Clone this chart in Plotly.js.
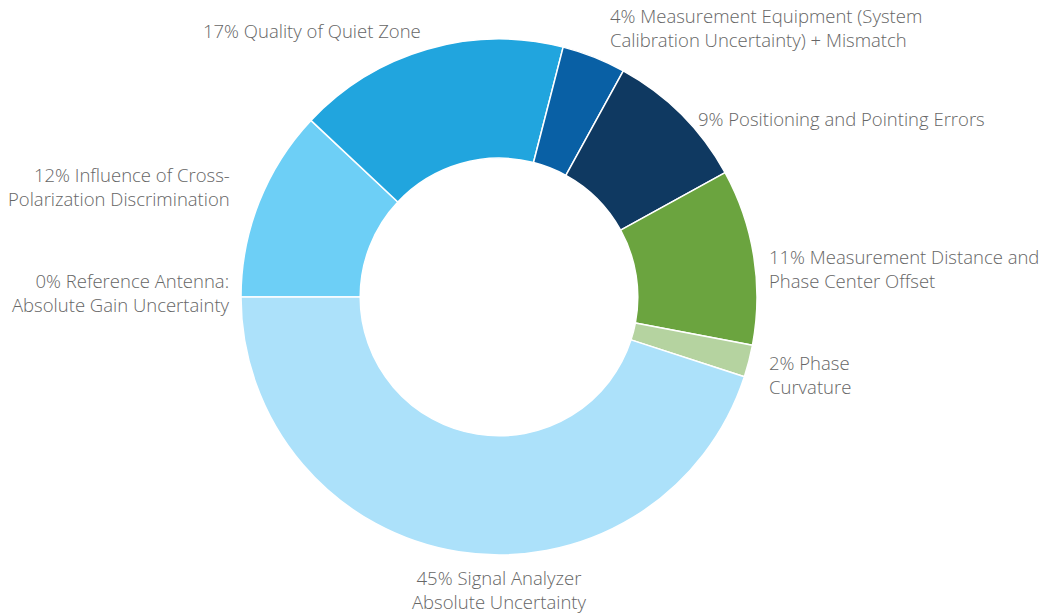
<!DOCTYPE html>
<html>
<head>
<meta charset="utf-8">
<script src="https://cdn.plot.ly/plotly-3.0.1.min.js"></script>
<style>
  html, body { margin: 0; padding: 0; background: #fff; }
  #chart { width: 1050px; height: 613px; }
</style>
</head>
<body>
<div id="chart"></div>
<script>
// Contributions to the total measurement uncertainty, clockwise from 9 o'clock
const categories = [
  'Reference Antenna:<br>Absolute Gain Uncertainty',
  'Influence of Cross-<br>Polarization Discrimination',
  'Quality of Quiet Zone',
  'Measurement Equipment (System<br>Calibration Uncertainty) + Mismatch',
  'Positioning and Pointing Errors',
  'Measurement Distance and<br>Phase Center Offset',
  'Phase<br>Curvature',
  'Signal Analyzer<br>Absolute Uncertainty'
];
const shares = [0, 12, 17, 4, 9, 11, 2, 45];

const sliceColors = ['#c8c8c8', '#6dcff6', '#21a5de', '#0960a5', '#0f3961', '#6ba43f', '#b5d3a0', '#ace1fa'];

// Label placement in page pixels: [x, y(center), anchor]
const labelPlacement = [
  [232, 292, 'right'],
  [232, 187, 'right'],
  [423, 31, 'right'],
  [608, 28, 'left'],
  [696, 118, 'left'],
  [767, 268, 'left'],
  [767, 374, 'left'],
  [499, 589, 'center']
];

const W = 1050, H = 613;
const margin = { l: 0, r: 52, t: 39, b: 58, pad: 0 };
const plotW = W - margin.l - margin.r;
const plotH = H - margin.t - margin.b;
const toPaperX = px => (px - margin.l) / plotW;
const toPaperY = py => (H - margin.b - py) / plotH;

const annotations = categories.map((name, i) => {
  const [px, py, anchor] = labelPlacement[i];
  return {
    xref: 'paper', yref: 'paper',
    x: toPaperX(px), y: toPaperY(py),
    xanchor: anchor, yanchor: 'middle', align: anchor,
    showarrow: false,
    text: shares[i] + '% ' + name,
    font: { family: '"Open Sans", Roboto, sans-serif', size: 18.5, color: '#666666', weight: 300 }
  };
});

const trace = {
  type: 'pie',
  values: shares,
  labels: categories,
  hole: 0.538,
  sort: false,
  direction: 'clockwise',
  rotation: -90,
  textinfo: 'none',
  hoverinfo: 'none',
  showlegend: false,
  marker: { colors: sliceColors, line: { color: '#ffffff', width: 1.5 } },
  domain: { x: [0, 1], y: [0, 1] }
};

const layout = {
  width: W, height: H,
  margin: margin,
  paper_bgcolor: '#ffffff',
  plot_bgcolor: '#ffffff',
  showlegend: false,
  annotations: annotations
};

Plotly.newPlot('chart', [trace], layout, { displayModeBar: false, staticPlot: true });
</script>
</body>
</html>
